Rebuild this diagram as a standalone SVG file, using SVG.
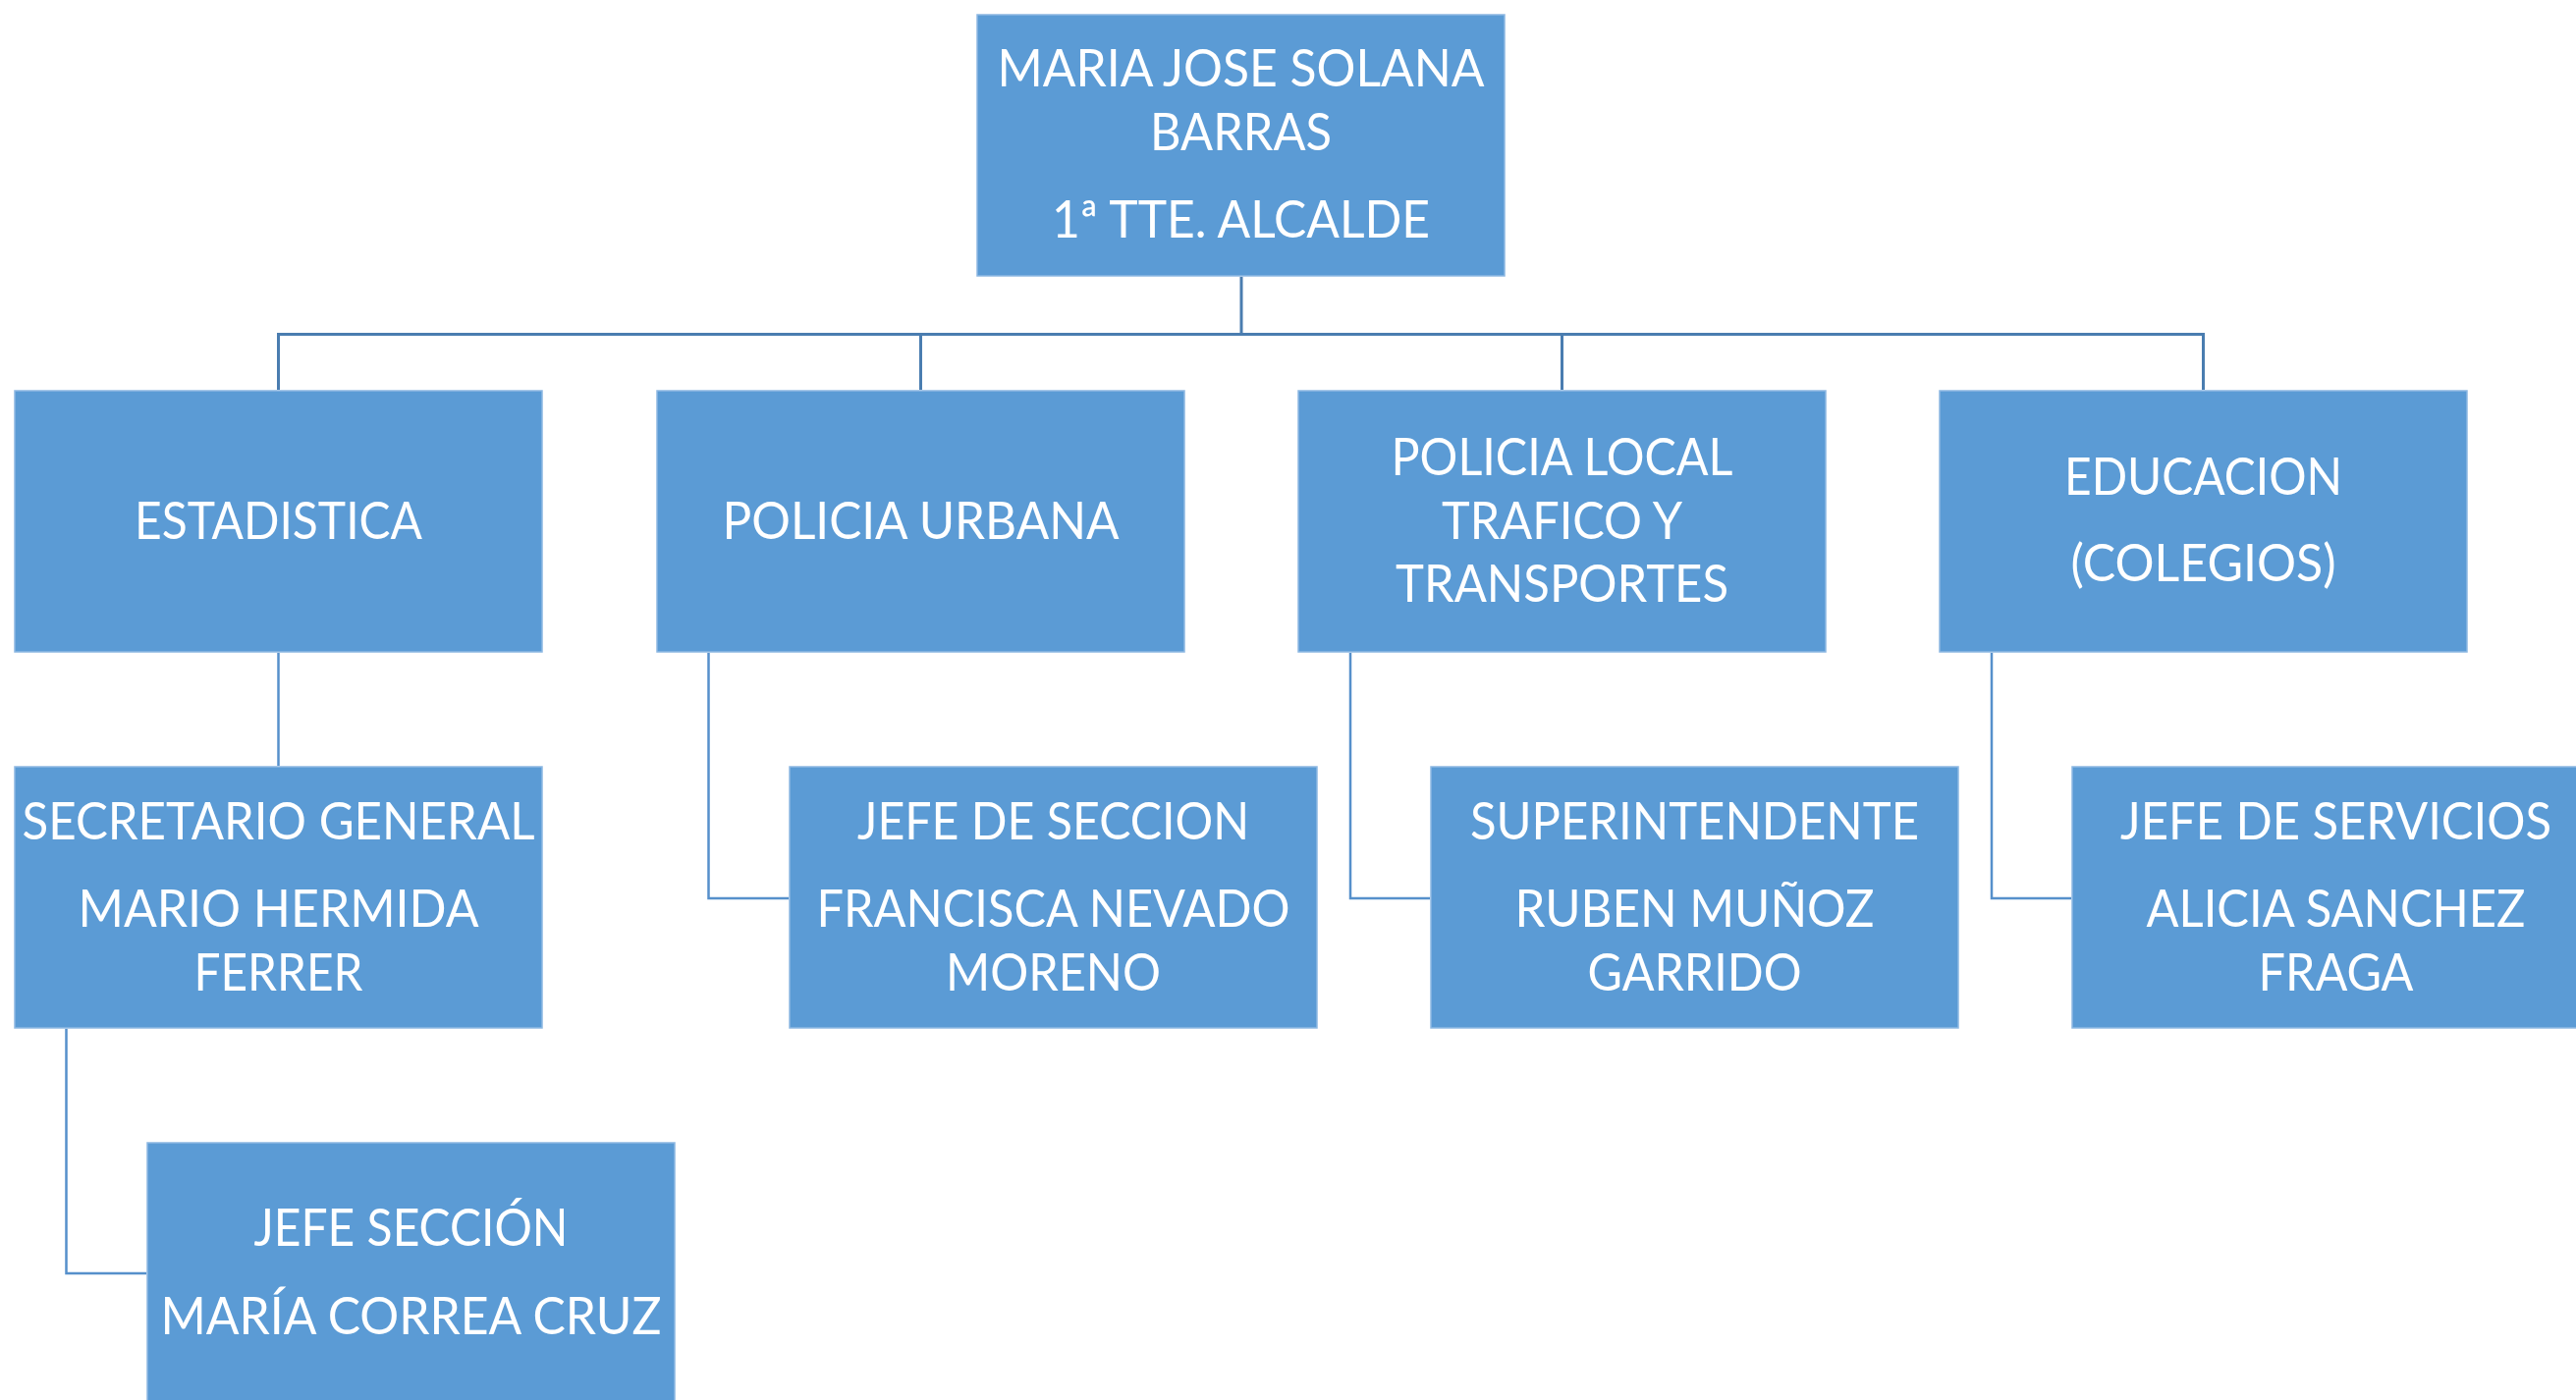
<svg xmlns="http://www.w3.org/2000/svg" width="2623" height="1426" viewBox="0 0 2623 1426">
<style>
.box{fill:#5B9BD5;stroke:#8DB8E2;stroke-width:1.5}
.t{font-family:Lato,"Open Sans","Liberation Sans",sans-serif;font-size:53px;fill:#ffffff;text-anchor:middle}
.bus{fill:none;stroke:#4A7DB0;stroke-width:3}
.sub{fill:none;stroke:#5690CB;stroke-width:2.5}
</style>
<rect width="2623" height="1426" fill="#ffffff"/>
<g id="connectors">
<path class="bus" d="M1264 282V340.5M282 340.5H2245M283.5 340.5V397M937.5 340.5V397M1590.5 340.5V397M2243.5 340.5V397"/>
<path class="sub" d="M283.5 665V780"/>
<path class="sub" d="M721.5 665V915H803"/>
<path class="sub" d="M1375 665V915H1456"/>
<path class="sub" d="M2028 665V915H2109"/>
<path class="sub" d="M67.5 1048V1297H149"/>
</g>
<g id="n-top">
<rect class="box" x="995" y="15" width="537" height="266"/>
<text class="t" x="1263.5" y="88" textLength="496" lengthAdjust="spacingAndGlyphs">MARIA JOSE SOLANA</text>
<text class="t" x="1263.5" y="153" textLength="185" lengthAdjust="spacingAndGlyphs">BARRAS</text>
<text class="t" x="1263.5" y="242" textLength="385" lengthAdjust="spacingAndGlyphs">1ª TTE. ALCALDE</text>
</g>
<g id="n-estadistica">
<rect class="box" x="15" y="398" width="537" height="266"/>
<text class="t" x="283.5" y="549" textLength="293" lengthAdjust="spacingAndGlyphs">ESTADISTICA</text>
</g>
<g id="n-policia-urbana">
<rect class="box" x="669" y="398" width="537" height="266"/>
<text class="t" x="937.5" y="549" textLength="404" lengthAdjust="spacingAndGlyphs">POLICIA URBANA</text>
</g>
<g id="n-policia-local">
<rect class="box" x="1322" y="398" width="537" height="266"/>
<text class="t" x="1590.5" y="484" textLength="348" lengthAdjust="spacingAndGlyphs">POLICIA LOCAL</text>
<text class="t" x="1590.5" y="549" textLength="245" lengthAdjust="spacingAndGlyphs">TRAFICO Y</text>
<text class="t" x="1590.5" y="613" textLength="339" lengthAdjust="spacingAndGlyphs">TRANSPORTES</text>
</g>
<g id="n-educacion">
<rect class="box" x="1975" y="398" width="537" height="266"/>
<text class="t" x="2243.5" y="504" textLength="283" lengthAdjust="spacingAndGlyphs">EDUCACION</text>
<text class="t" x="2243.5" y="592" textLength="270" lengthAdjust="spacingAndGlyphs">(COLEGIOS)</text>
</g>
<g id="n-secretario">
<rect class="box" x="15" y="781" width="537" height="266"/>
<text class="t" x="283.5" y="855" textLength="522" lengthAdjust="spacingAndGlyphs">SECRETARIO GENERAL</text>
<text class="t" x="283.5" y="944" textLength="408" lengthAdjust="spacingAndGlyphs">MARIO HERMIDA</text>
<text class="t" x="283.5" y="1009" textLength="172" lengthAdjust="spacingAndGlyphs">FERRER</text>
</g>
<g id="n-jefe-seccion-pu">
<rect class="box" x="804" y="781" width="537" height="266"/>
<text class="t" x="1072.5" y="855" textLength="399" lengthAdjust="spacingAndGlyphs">JEFE DE SECCION</text>
<text class="t" x="1072.5" y="944" textLength="482" lengthAdjust="spacingAndGlyphs">FRANCISCA NEVADO</text>
<text class="t" x="1072.5" y="1009" textLength="219" lengthAdjust="spacingAndGlyphs">MORENO</text>
</g>
<g id="n-superintendente">
<rect class="box" x="1457" y="781" width="537" height="266"/>
<text class="t" x="1725.5" y="855" textLength="457" lengthAdjust="spacingAndGlyphs">SUPERINTENDENTE</text>
<text class="t" x="1725.5" y="944" textLength="366" lengthAdjust="spacingAndGlyphs">RUBEN MUÑOZ</text>
<text class="t" x="1725.5" y="1009" textLength="218" lengthAdjust="spacingAndGlyphs">GARRIDO</text>
</g>
<g id="n-jefe-servicios">
<rect class="box" x="2110" y="781" width="537" height="266"/>
<text class="t" x="2378.5" y="855" textLength="439" lengthAdjust="spacingAndGlyphs">JEFE DE SERVICIOS</text>
<text class="t" x="2378.5" y="944" textLength="386" lengthAdjust="spacingAndGlyphs">ALICIA SANCHEZ</text>
<text class="t" x="2378.5" y="1009" textLength="158" lengthAdjust="spacingAndGlyphs">FRAGA</text>
</g>
<g id="n-jefe-seccion-est">
<rect class="box" x="150" y="1164" width="537" height="266"/>
<text class="t" x="418.5" y="1268.5" textLength="320" lengthAdjust="spacingAndGlyphs">JEFE SECCIÓN</text>
<text class="t" x="418.5" y="1358.5" textLength="510" lengthAdjust="spacingAndGlyphs">MARÍA CORREA CRUZ</text>
</g>
</svg>
